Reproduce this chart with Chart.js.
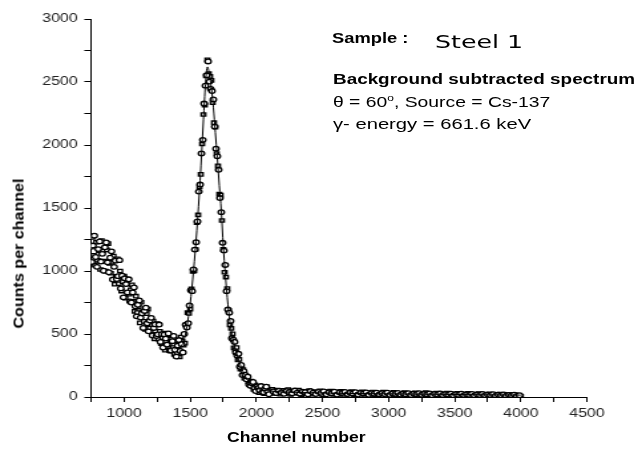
<!DOCTYPE html>
<html><head><meta charset="utf-8">
<script src="https://cdn.jsdelivr.net/npm/chart.js@4.4.1/dist/chart.umd.min.js"></script>
<style>
html,body{margin:0;padding:0;background:#fff;overflow:hidden;width:642px;height:450px;}
#wrap{position:absolute;left:0;top:0;width:483px;height:450px;transform-origin:0 0;}
.lbl{position:absolute;white-space:nowrap;line-height:1.2;color:#000;}
.lbl sup{font-size:0.62em;vertical-align:0.62em;line-height:0;}
</style></head><body>
<div id="wrap"><canvas id="c" width="483" height="450"></canvas></div>
<script>
// ---- data ----
// series A (square markers)
const channelsA = [
 750,760,770,780,790,800,810,820,830,840,850,860,870,880,890,900,910,920,930,940,
 950,960,970,980,990,1000,1010,1020,1030,1040,1050,1060,1070,1080,1090,1100,1110,1120,1130,1140,
 1150,1160,1170,1180,1190,1200,1210,1220,1230,1240,1250,1260,1270,1280,1290,1300,1310,1320,1330,1340,
 1350,1360,1370,1380,1390,1400,1410,1420,1430,1440,1450,1460,1470,1480,1490,1500,1510,1520,1530,1540,
 1550,1560,1570,1580,1590,1600,1610,1620,1630,1640,1650,1660,1670,1680,1690,1700,1710,1720,1730,1740,
 1750,1760,1770,1780,1790,1800,1810,1820,1830,1840,1850,1860,1870,1880,1890,1900,1910,1920,1930,1940,
 1950,1960,1970,1980,1990,2000,2010,2020,2030,2040,2050,2060,2070,2080,2090,2100,
 2120,2140,2160,2180,2200,2220,2240,2260,2280,2300,2320,2340,2360,2380,2400,2420,2440,2460,2480,2500,
 2520,2540,2560,2580,2600,2620,2640,2660,2680,2700,2720,2740,2760,2780,2800,2820,2840,2860,2880,2900,
 2920,2940,2960,2980,3000,3020,3040,3060,3080,3100,3120,3140,3160,3180,3200,3220,3240,3260,3280,3300,
 3320,3340,3360,3380,3400,3420,3440,3460,3480,3500,3520,3540,3560,3580,3600,3620,3640,3660,3680,3700,
 3720,3740,3760,3780,3800,3820,3840,3860,3880,3900,3920,3940,3960,3980,4000
];
const countsA = [
 1189,1267,1124,1046,1228,1085,1159,1012,1242,1160,1078,999,1167,1218,1061,982,1070,1119,895,957,
 1097,899,1000,841,916,960,784,898,932,816,850,890,760,680,800,670,714,588,752,676,
 600,536,662,698,574,522,574,602,462,498,582,460,522,424,470,508,372,468,500,412,
 444,486,392,338,444,350,402,318,476,442,412,427,565,670,663,698,858,997,1001,1171,
 1383,1445,1668,1767,2008,2242,2317,2548,2676,2566,2544,2513,2336,2177,2142,1932,1834,1610,1603,1401,
 1172,990,952,860,688,573,544,502,390,377,393,294,298,222,227,218,150,169,164,121,
 122,127,87,61,96,55,70,34,85,64,43,27,67,81,46,30,
 60,28,55,22,52,30,58,20,47,33,54,18,45,28,50,22,42,30,48,17,
 40,26,46,20,38,29,44,15,37,25,42,18,35,27,40,14,33,22,38,19,
 31,26,39,13,30,21,36,16,29,24,35,12,28,20,33,15,27,22,34,11,
 26,19,31,14,25,20,30,10,24,17,29,12,23,18,28,9,22,16,27,11,
 21,15,26,8,20,14,24,10,19,13,22,7,17,12,5
];
// series B (circle markers)
const channelsB = [
 755,765,775,785,795,805,815,825,835,845,855,865,875,885,895,905,915,925,935,945,
 955,965,975,985,995,1005,1015,1025,1035,1045,1055,1065,1075,1085,1095,1105,1115,1125,1135,1145,
 1155,1165,1175,1185,1195,1205,1215,1225,1235,1245,1255,1265,1275,1285,1295,1305,1315,1325,1335,1345,
 1355,1365,1375,1385,1395,1405,1415,1425,1435,1445,1455,1465,1475,1485,1495,1505,1515,1525,1535,1545,
 1555,1565,1575,1585,1595,1605,1615,1625,1635,1645,1655,1665,1675,1685,1695,1705,1715,1725,1735,1745,
 1755,1765,1775,1785,1795,1805,1815,1825,1835,1845,1855,1865,1875,1885,1895,1905,1915,1925,1935,1945,
 1955,1965,1975,1985,1995,2005,2015,2025,2035,2045,2055,2065,2075,2085,2095,
 2130,2150,2170,2190,2210,2230,2250,2270,2290,2310,2330,2350,2370,2390,2410,2430,2450,2470,2490,2510,
 2530,2550,2570,2590,2610,2630,2650,2670,2690,2710,2730,2750,2770,2790,2810,2830,2850,2870,2890,2910,
 2930,2950,2970,2990,3010,3030,3050,3070,3090,3110,3130,3150,3170,3190,3210,3230,3250,3270,3290,3310,
 3330,3350,3370,3390,3410,3430,3450,3470,3490,3510,3530,3550,3570,3590,3610,3630,3650,3670,3690,3710,
 3730,3750,3770,3790,3810,3830,3850,3870,3890,3910,3930,3950,3970,3990
];
const countsB = [
 1072,1202,1280,1111,1033,1174,1235,1075,1136,1002,1188,1226,1069,990,1106,1156,932,1033,1082,936,
 959,1086,862,963,791,942,896,830,934,758,750,830,870,720,640,732,766,630,664,548,
 683,709,585,521,607,628,488,548,576,484,497,575,437,499,393,496,464,416,504,368,
 369,443,485,375,321,408,452,365,419,353,500,573,551,586,726,848,840,1013,1170,1228,
 1393,1630,1686,1933,2041,2329,2471,2553,2663,2503,2445,2428,2362,2146,1971,1911,1803,1579,1467,1224,
 1162,1048,840,694,669,604,467,455,437,353,330,343,240,254,174,205,176,141,161,99,
 89,109,119,73,47,84,72,54,87,36,37,65,82,41,22,
 44,31,49,36,25,47,38,29,51,34,27,43,39,21,46,35,24,41,33,45,
 22,37,30,42,19,36,32,40,23,34,28,39,20,33,29,37,18,31,26,35,
 21,30,24,34,17,28,25,33,19,27,22,31,16,26,23,30,18,25,21,29,
 14,24,20,28,16,23,19,27,13,22,18,26,15,21,17,25,12,20,16,24,
 14,19,15,22,11,18,14,21,10,17,13,19,9,14
];
// fitted curve drawn through the points
const fitChannels = [1380,1400,1425,1450,1475,1500,1525,1550,1575,1600,1615,1630,1645,1660,1675,1690,1705,1720,1735,1750,1765,1780,1800,1820,1845,1870,1900,1930,1960,2000,2050,2100,2200,2400,2700,3000,3500,4000];
const fitCounts   = [380,390,400,440,560,740,1000,1320,1720,2200,2480,2620,2560,2450,2300,2100,1900,1680,1480,1200,980,790,600,470,370,280,200,140,100,70,55,48,40,34,28,25,20,15];
const xTickLabels = [1000,1500,2000,2500,3000,3500,4000,4500];
const yTickLabels = [0,500,1000,1500,2000,2500,3000];

// ---- layout ----
const W = 642, H = 450, CW = 483;
const S = W / CW;                       // horizontal stretch of the reference
const AREA = {left: 91, right: 587, top: 19, bottom: 397};
document.getElementById('wrap').style.transform = 'scaleX(' + S + ')';

const pts = (xs, ys) => xs.map((x, i) => ({x: x, y: ys[i]}));
const tickFont = {family: "'Liberation Sans', Arial, sans-serif", size: 12};
new Chart(document.getElementById('c'), {
  type: 'scatter',
  data: {datasets: [
    {data: pts(channelsA, countsA), pointStyle: 'rect', pointRadius: 2.4,
     pointBorderWidth: 1.3, borderWidth: 1.3, borderColor: '#000', backgroundColor: '#fff', showLine: false, order: 3},
    {data: pts(channelsB, countsB), pointStyle: 'circle', pointRadius: 2.3,
     pointBorderWidth: 1.3, borderWidth: 1.3, borderColor: '#000', backgroundColor: '#fff', showLine: false, order: 2},
    {data: pts(fitChannels, fitCounts), showLine: true, pointRadius: 0,
     borderColor: '#000', borderWidth: 1, cubicInterpolationMode: 'monotone', fill: false, order: 1}
  ]},
  options: {
    responsive: false, animation: false, devicePixelRatio: 1,
    layout: {padding: {left: 0, top: AREA.top, right: CW - AREA.right / S, bottom: 0}},
    plugins: {legend: {display: false}, tooltip: {enabled: false}},
    events: [],
    scales: {
      x: {type: 'linear', min: 750, max: 4500,
          afterFit: s => { s.height = H - AREA.bottom; },
          border: {display: true, color: '#000', width: 1},
          grid: {display: true, drawOnChartArea: false, drawTicks: true, tickLength: 5, color: '#000'},
          ticks: {stepSize: 250, autoSkip: false, maxRotation: 0, padding: 4, color: '#222', font: tickFont,
                  callback: v => xTickLabels.includes(v) ? String(v) : ''}},
      y: {type: 'linear', min: 0, max: 3000,
          afterFit: s => { s.width = AREA.left / S; },
          border: {display: true, color: '#000', width: 1},
          grid: {display: true, drawOnChartArea: false, drawTicks: true, tickLength: 5, color: '#000'},
          ticks: {stepSize: 250, autoSkip: false, padding: 5, color: '#222', font: tickFont,
                  callback: v => yTickLabels.includes(v) ? String(v) : ''}}
    }
  }
});

// ---- text labels (real text) ----
function place(html, o) {
  const d = document.createElement('div');
  d.className = 'lbl';
  d.innerHTML = html;
  d.style.font = (o.weight || 'normal') + ' ' + o.size + 'px ' + (o.family || "'Liberation Sans', Arial, sans-serif");
  d.style.left = '0px'; d.style.top = '0px';
  document.body.appendChild(d);
  const w = d.offsetWidth, h = d.offsetHeight;
  if (o.rotate) {
    d.style.left = (o.cx - w / 2) + 'px';
    d.style.top = (o.cy - h / 2) + 'px';
    d.style.transformOrigin = '50% 50%';
    d.style.transform = 'rotate(-90deg) scaleX(' + (o.length / w) + ')';
    return;
  }
  const p = document.createElement('span');
  p.style.cssText = 'display:inline-block;width:0;height:0;vertical-align:baseline;';
  d.appendChild(p);
  const base = p.offsetTop;
  d.style.left = o.left + 'px';
  d.style.top = (o.baseline - base) + 'px';
  d.style.transformOrigin = '0 0';
  d.style.transform = 'scaleX(' + (o.width / w) + ')';
}
place('Counts per channel', {rotate: true, cx: 18, cy: 253, length: 150, size: 15, weight: 'bold'});
place('Channel number', {left: 227, baseline: 442.3, width: 138, size: 14, weight: 'bold'});
place('Sample :', {left: 332, baseline: 43.4, width: 77, size: 15, weight: 'bold'});
place('Steel 1', {left: 435, baseline: 47.5, width: 88, size: 17.5, family: "'DejaVu Sans', sans-serif"});
place('Background subtracted spectrum', {left: 332.7, baseline: 84, width: 302, size: 15, weight: 'bold'});
place('&theta; = 60<sup>o</sup>, Source = Cs-137', {left: 332.7, baseline: 107.3, width: 217, size: 15.5});
place('&gamma;- energy = 661.6 keV', {left: 332.7, baseline: 128.5, width: 198, size: 15.5});
</script>
</body></html>
